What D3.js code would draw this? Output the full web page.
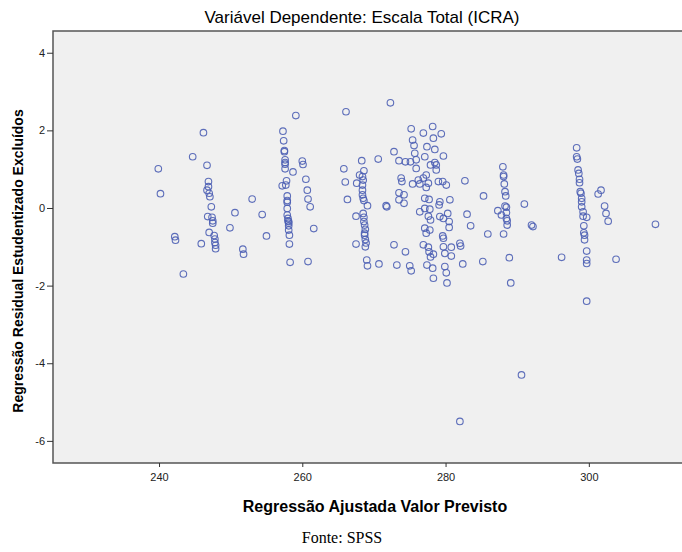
<!DOCTYPE html>
<html lang="pt">
<head>
<meta charset="UTF-8">
<title>Variável Dependente: Escala Total (ICRA)</title>
<script src="https://d3js.org/d3.v7.min.js"></script>
<style>
  body { margin: 0; background: #fff; }
  svg { display: block; }
  .tick text { font-family: "Liberation Sans", Arial, sans-serif; font-size: 11px; fill: #222; }
  .tick line { stroke: #333; }
  .domain { display: none; }
</style>
</head>
<body>
<div id="chart"></div>
<script>
// chart texts
const chartTitle = "Variável Dependente: Escala Total (ICRA)";
const xTitle = "Regressão Ajustada Valor Previsto";
const yTitle = "Regressão Residual Estudentizado Excluídos";
const sourceNote = "Fonte: SPSS";

const xTicks = [240, 260, 280, 300];
const yTicks = [4, 2, 0, -2, -4, -6];

// predicted values (x) and studentized deleted residuals (y), same order
const predicted = [
  // 240 - 255
  239.9, 240.2, 242.2, 242.3, 243.4, 244.7, 245.9, 246.2, 246.7, 246.9,
  246.9, 246.7, 247.0, 247.1, 247.3, 246.8, 247.4, 247.5, 247.5, 247.0,
  247.7, 247.8, 247.8, 247.9, 247.9, 249.9, 250.6, 251.7, 251.8, 253.0,
  254.4, 255.0,
  // 257 - 267
  257.3, 257.4, 257.5, 257.5, 257.6, 257.6, 257.6, 257.6, 257.8, 257.2,
  257.7, 257.9, 257.9, 257.9, 257.9, 257.9, 258.0, 258.0, 258.1, 258.1,
  258.1, 258.1, 258.2, 258.2, 258.3, 258.7, 259.1, 260.0, 260.1, 260.5,
  260.7, 260.8, 261.1, 261.6, 260.8, 265.8, 266.0, 266.1, 266.3, 267.5,
  267.6, 267.5,
  // 268 - 275
  268.3, 268.6, 268.0, 268.4, 268.4, 268.4, 268.4, 268.5, 268.6, 269.1,
  268.5, 268.6, 268.6, 268.7, 268.8, 268.8, 268.8, 269.0, 269.1, 270.6,
  270.7, 271.7, 271.8, 272.3, 272.8, 272.8, 273.5, 273.8, 273.9, 273.5,
  273.5, 274.2, 274.2, 274.4, 274.4, 273.2, 275.1, 275.2, 275.4, 275.6,
  275.7, 275.4, 275.0, 275.2, 268.5, 268.7, 268.7, 268.9,
  // 276 - 286
  278.2, 276.9, 279.4, 278.3, 277.4, 278.5, 279.7, 277.1, 275.9, 278.5,
  277.9, 278.7, 275.9, 278.7, 277.3, 276.9, 276.2, 282.7, 279.0, 279.6,
  277.6, 276.4, 280.1, 277.3, 285.3, 277.1, 277.7, 280.6, 279.2, 279.1,
  277.1, 276.4, 277.8, 280.3, 283.0, 277.6, 279.2, 279.7, 277.9, 280.5,
  283.5, 277.1, 280.5, 277.8, 277.3, 285.9, 279.6, 279.7, 276.9, 277.6,
  279.7, 280.8, 282.0, 282.1, 277.7, 278.3, 279.9, 280.8, 277.9, 285.2,
  282.4, 277.4, 279.9, 278.2, 280.1, 278.3, 280.2, 282.0,
  // 287 - 310
  288.0, 288.1, 288.1, 288.2, 288.3, 288.4, 288.3, 288.5, 287.3, 287.8,
  288.5, 288.5, 288.6, 288.6, 288.1, 288.9, 289.1, 290.6, 291.0, 292.0,
  292.2, 296.2, 298.3, 298.3, 298.4, 298.5, 298.6, 298.7, 298.7, 298.8,
  298.9, 299.0, 299.0, 299.0, 299.2, 299.2, 299.7, 299.3, 299.3, 299.4,
  299.4, 299.7, 299.7, 299.7, 299.7, 301.7, 301.3, 302.2, 302.4, 302.7,
  303.8, 309.3
];

const residual = [
  // 240 - 255
  1.01, 0.37, -0.74, -0.83, -1.70, 1.32, -0.92, 1.94, 1.10, 0.68,
  0.55, 0.46, 0.38, 0.29, 0.03, -0.22, -0.24, -0.33, -0.39, -0.63,
  -0.71, -0.80, -0.89, -0.96, -1.05, -0.51, -0.12, -1.06, -1.19, 0.23,
  -0.17, -0.72,
  // 257 - 267
  1.98, 1.73, 1.48, 1.45, 1.24, 1.17, 1.13, 1.01, 0.70, 0.57,
  0.59, 0.31, 0.19, 0.15, -0.01, -0.18, -0.27, -0.33, -0.35, -0.39,
  -0.46, -0.57, -0.70, -0.93, -1.40, 0.93, 2.38, 1.21, 1.12, 0.74,
  0.46, 0.23, 0.03, -0.53, -1.38, 1.01, 0.67, 2.48, 0.22, -0.93,
  0.64, -0.21,
  // 268 - 275
  1.22, 0.96, 0.85, 0.81, 0.59, 0.46, 0.34, 0.25, 0.19, 0.06,
  -0.14, -0.24, -0.35, -0.44, -0.55, -0.81, -1.00, -1.34, -1.49, 1.26,
  -1.44, 0.06, 0.03, 2.71, 1.45, -0.95, 1.22, 0.77, 0.68, 0.39,
  0.21, 0.34, 0.12, 1.19, -1.13, -1.47, 1.19, 2.04, 1.75, 1.61,
  1.41, 0.62, -1.49, -1.62, 0.72, -0.65, -0.70, -0.90,
  // 276 - 286
  2.10, 1.93, 1.91, 1.80, 1.58, 1.51, 1.34, 1.32, 1.24, 1.17,
  1.11, 1.11, 1.02, 0.98, 0.85, 0.77, 0.72, 0.70, 0.68, 0.68,
  0.64, 0.62, 0.59, 0.53, 0.31, 0.25, 0.22, 0.21, 0.16, 0.08,
  -0.01, -0.10, -0.03, -0.14, -0.16, -0.21, -0.22, -0.27, -0.31, -0.35,
  -0.46, -0.52, -0.50, -0.57, -0.65, -0.67, -0.72, -0.78, -0.95, -1.01,
  -1.00, -1.01, -0.91, -0.98, -1.13, -1.19, -1.17, -1.24, -1.26, -1.38,
  -1.44, -1.47, -1.51, -1.55, -1.67, -1.81, -1.93, -5.50,
  // 287 - 310
  1.06, 0.85, 0.81, 0.62, 0.42, 0.31, 0.05, 0.02, -0.07, -0.18,
  -0.12, -0.27, -0.33, -0.44, -0.67, -1.28, -1.93, -4.30, 0.10, -0.44,
  -0.48, -1.27, 1.55, 1.32, 1.26, 0.98, 0.89, 0.74, 0.65, 0.42,
  0.38, 0.25, 0.16, 0.03, -0.10, -0.21, -0.24, -0.46, -0.64, -0.70,
  -0.82, -1.11, -1.34, -1.43, -2.40, 0.46, 0.36, 0.05, -0.14, -0.34,
  -1.32, -0.42
];

const width = 682;
const height = 552;
const plot = { left: 53, top: 31, right: 697, bottom: 463 };

const svg = d3.select("#chart")
  .append("svg")
  .attr("width", width)
  .attr("height", height);

const x = d3.scaleLinear()
  .domain([225.2, 315.1])
  .range([plot.left, plot.right]);

const y = d3.scaleLinear()
  .domain([-6.57, 4.56])
  .range([plot.bottom, plot.top]);

// plot background
svg.append("rect")
  .attr("x", plot.left)
  .attr("y", plot.top)
  .attr("width", plot.right - plot.left)
  .attr("height", plot.bottom - plot.top)
  .attr("fill", "#f0f0f0")
  .attr("stroke", "#555")
  .attr("stroke-width", 1.5);

// axes (plain hyphen for negatives, as in SPSS)
svg.append("g")
  .attr("transform", `translate(0,${plot.bottom})`)
  .call(d3.axisBottom(x).tickValues(xTicks).tickSize(4).tickPadding(6).tickFormat(d => String(d)));

svg.append("g")
  .attr("transform", `translate(${plot.left},0)`)
  .call(d3.axisLeft(y).tickValues(yTicks).tickSize(6).tickPadding(2).tickFormat(d => String(d)));

// points
svg.append("g")
  .selectAll("circle")
  .data(predicted)
  .enter().append("circle")
  .attr("cx", d => x(d))
  .attr("cy", (d, i) => y(residual[i]))
  .attr("r", 3.3)
  .attr("fill", "none")
  .attr("stroke", "#4c5fb4")
  .attr("stroke-width", 1.1)
  .attr("stroke-opacity", 0.9);

// titles
svg.append("text")
  .attr("x", 362)
  .attr("y", 23)
  .attr("text-anchor", "middle")
  .style("font-family", "'Liberation Sans', Arial, sans-serif")
  .style("font-size", "17px")
  .text(chartTitle);

svg.append("text")
  .attr("x", 375)
  .attr("y", 512)
  .attr("text-anchor", "middle")
  .style("font-family", "'Liberation Sans', Arial, sans-serif")
  .style("font-size", "16px")
  .style("font-weight", "bold")
  .text(xTitle);

svg.append("text")
  .attr("transform", "translate(23,261) rotate(-90)")
  .attr("text-anchor", "middle")
  .style("font-family", "'Liberation Sans', Arial, sans-serif")
  .style("font-size", "14px")
  .style("font-weight", "bold")
  .text(yTitle);

svg.append("text")
  .attr("x", 342)
  .attr("y", 543)
  .attr("text-anchor", "middle")
  .style("font-family", "'Liberation Serif', 'Times New Roman', serif")
  .style("font-size", "16px")
  .text(sourceNote);
</script>
</body>
</html>
